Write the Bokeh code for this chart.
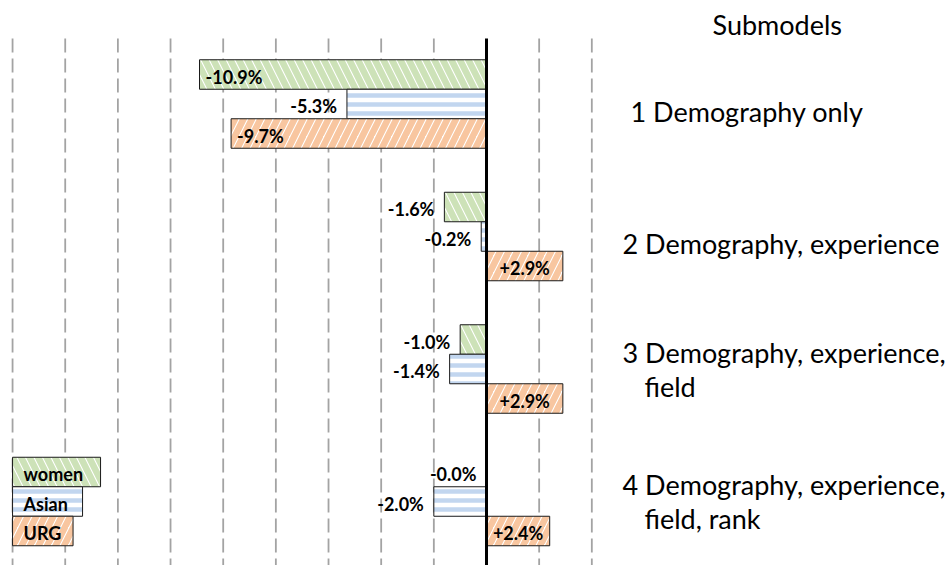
from bokeh.plotting import figure
from bokeh.models import ColumnDataSource, Range1d
from bokeh.core.properties import value
from bokeh.embed import file_html
from bokeh.resources import INLINE

# ---- data ----
submodel_line1 = ["1 Demography only", "2 Demography, experience",
                  "3 Demography, experience,", "4 Demography, experience,"]
submodel_line2 = ["", "", "field", "field, rank"]
header = "Submodels"
series_names = ["women", "Asian", "URG"]
women = [-10.9, -1.6, -1.0, -0.0]
asian = [-5.3, -0.2, -1.4, -2.0]
urg = [-9.7, 2.9, 2.9, 2.4]
grid_ticks = [-18, -16, -14, -12, -10, -8, -6, -4, -2, 2, 4]

# ---- style ----
FONT = "Lato"
W, H = 951, 565
PX_X = 26.33         # px per percentage point
PX_Y = 132.5         # px per submodel group
ZERO_PX = 486
TOP_PX = 103.5
hatch_colors = ["#cde2b8", "#c2d6ef", "#f8c6a0"]
hatch_patterns = ["left_diagonal_line", "horizontal_line", "right_diagonal_line"]
hatch_scales = [17, 9, 17]
hatch_weights = [6.5, 4.5, 6.5]
bar_h = 29.5 / PX_Y
offsets = [bar_h, 0.0, -bar_h]
legend_w_px = [88, 70, 60.5]
label_x_shift = [8, 0, 0, 0]

x0 = -ZERO_PX / PX_X
x1 = x0 + W / PX_X
y1 = TOP_PX / PX_Y
y0 = y1 - H / PX_Y


def dx(px):
    return x0 + px / PX_X


def dy(py):
    return y1 - py / PX_Y


p = figure(width=W, height=H, output_backend="svg", toolbar_location=None,
           x_range=Range1d(x0, x1), y_range=Range1d(y0, y1),
           x_axis_location=None, y_axis_location=None, min_border=0,
           outline_line_color=None)
p.grid.visible = False
p.background_fill_color = "white"

grid_top = dy(38)
p.segment(x0=grid_ticks, x1=grid_ticks, y0=[grid_top] * len(grid_ticks),
          y1=[y0] * len(grid_ticks), line_color="#a3a3a3", line_width=1.8,
          line_dash="14 6")

series = [women, asian, urg]
lab_x, lab_y, lab_t, lab_a, lab_o = [], [], [], [], []
for k, vals in enumerate(series):
    ys = [-i + offsets[k] for i in range(len(vals))]
    src = ColumnDataSource(dict(y=ys, left=[min(v, 0) for v in vals],
                                right=[max(v, 0) for v in vals]))
    p.hbar(y="y", left="left", right="right", height=bar_h, source=src,
           fill_color="white", line_color="#1a1a1a", line_width=1,
           hatch_pattern=hatch_patterns[k], hatch_color=hatch_colors[k],
           hatch_scale=hatch_scales[k], hatch_weight=hatch_weights[k])
    for v, y in zip(vals, ys):
        lab_y.append(y)
        lab_t.append(f"{v:+.1f}%")
        if v < 0 and abs(v) >= 9:
            lab_x.append(v); lab_a.append("left"); lab_o.append(6)
        elif v <= 0:
            lab_x.append(v); lab_a.append("right"); lab_o.append(-10)
        else:
            lab_x.append(v / 2); lab_a.append("center"); lab_o.append(0)

# zero line
p.segment(x0=[0], x1=[0], y0=[grid_top], y1=[y0], line_color="black", line_width=3)

lsrc = ColumnDataSource(dict(x=lab_x, y=lab_y, t=lab_t, a=lab_a, o=lab_o))
p.text(x="x", y="y", text="t", text_align="a", x_offset="o", y_offset=2,
       source=lsrc, text_baseline="middle", text_font=value(FONT),
       text_font_style="bold", text_font_size="18px", text_color="black")

# legend boxes (bottom-left)
last = len(women) - 1
leg_y = [-last + o for o in offsets]
for k, name in enumerate(series_names):
    p.hbar(y=[leg_y[k]], left=[grid_ticks[0]],
           right=[grid_ticks[0] + legend_w_px[k] / PX_X],
           height=bar_h, fill_color="white", line_color="#1a1a1a", line_width=1,
           hatch_pattern=hatch_patterns[k], hatch_color=hatch_colors[k],
           hatch_scale=hatch_scales[k], hatch_weight=hatch_weights[k])
p.text(x=[grid_ticks[0]] * 3, y=leg_y, text=series_names, x_offset=11, y_offset=2,
       text_baseline="middle", text_align="left", text_font=value(FONT),
       text_font_style="bold", text_font_size="18px", text_color="black")

# submodel labels
LBL = dict(text_font=value(FONT), text_font_size="27px", text_color="black",
           text_baseline="alphabetic", text_align="left")
p.text(x=[dx(712)], y=[dy(24)], text=[header], **LBL)
gy = [-i for i in range(len(submodel_line1))]
lxs = [dx(622 + s) for s in label_x_shift]
l1y = [g - ((-17 if s else 7) / PX_Y) for g, s in zip(gy, submodel_line2)]
p.text(x=lxs, y=l1y, text=submodel_line1, **LBL)
l2y = [g - 17 / PX_Y for g, s in zip(gy, submodel_line2) if s]
p.text(x=[dx(622)] * len(l2y), y=l2y, text=[s for s in submodel_line2 if s],
       x_offset=22, **LBL)

open("out.html", "w").write(file_html(p, INLINE))
